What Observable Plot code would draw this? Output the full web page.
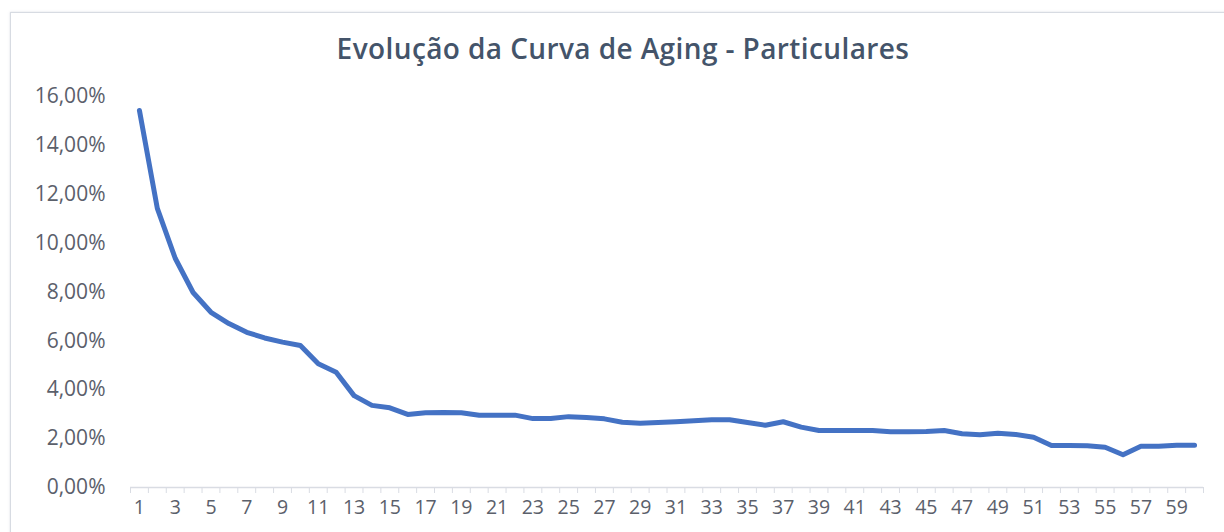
<!DOCTYPE html>
<html>
<head>
<meta charset="utf-8">
<script src="https://cdn.jsdelivr.net/npm/d3@7"></script>
<script src="https://cdn.jsdelivr.net/npm/@observablehq/plot@0.6"></script>
<style>
  html, body { margin: 0; padding: 0; background: #ffffff; width: 1224px; height: 532px; overflow: hidden; }
  #frame { position: absolute; left: 10px; top: 12px; width: 1400px; height: 700px; border: 1px solid #d7dbe2; box-shadow: 0 0 2px rgba(180,188,200,0.5); }
  #title { position: absolute; left: 0; top: 29px; width: 1246px; text-align: center; font-family: "Open Sans", sans-serif; font-weight: 600; font-size: 28px; letter-spacing: 0.4px; color: #44546a; line-height: 38px; }
  #chart { position: absolute; left: 0; top: 80px; }
</style>
</head>
<body>
<div id="frame"></div>
<div id="title">Evolução da Curva de Aging - Particulares</div>
<div id="chart"></div>
<script>
const months = [1,2,3,4,5,6,7,8,9,10,11,12,13,14,15,16,17,18,19,20,21,22,23,24,25,26,27,28,29,30,31,32,33,34,35,36,37,38,39,40,41,42,43,44,45,46,47,48,49,50,51,52,53,54,55,56,57,58,59,60];
const agingPct = [15.43,11.42,9.38,7.98,7.17,6.71,6.35,6.12,5.95,5.81,
                  5.06,4.72,3.76,3.36,3.26,2.99,3.06,3.07,3.06,2.96,
                  2.96,2.96,2.82,2.82,2.90,2.86,2.81,2.67,2.63,2.66,
                  2.69,2.73,2.77,2.77,2.66,2.55,2.69,2.47,2.33,2.33,
                  2.33,2.33,2.28,2.28,2.29,2.33,2.20,2.16,2.22,2.17,
                  2.06,1.72,1.72,1.71,1.65,1.34,1.69,1.69,1.73,1.73];
const xTickLabels = [1,3,5,7,9,11,13,15,17,19,21,23,25,27,29,31,33,35,37,39,41,43,45,47,49,51,53,55,57,59];
const yTickValues = [0,2,4,6,8,10,12,14,16];

const data = months.map((m, i) => ({month: m, value: agingPct[i]}));
const boundaries = months.map(m => m - 0.5).concat([months[months.length - 1] + 0.5]);
const fmt = v => v.toFixed(2).replace(".", ",") + "%";

const chart = Plot.plot({
  width: 1224,
  height: 452,
  marginLeft: 130,
  marginRight: 21,
  marginTop: 16,
  marginBottom: 45,
  style: {fontFamily: "Open Sans, sans-serif", fontSize: "19px", color: "#5b606b", background: "transparent"},
  x: {type: "linear", domain: [0.5, 60.5], label: null},
  y: {domain: [0, 16], label: null},
  marks: [
    Plot.axisX(boundaries, {tickSize: 6, stroke: "#d9dce3", tickFormat: () => "", label: null}),
    Plot.ruleY([0], {stroke: "#d9dce3", strokeWidth: 1.5}),
    Plot.axisX(xTickLabels, {tickSize: 0, tickPadding: 13, label: null, fill: "#5b606b", fontSize: 19.5}),
    Plot.axisY(yTickValues, {tickSize: 0, tickPadding: 25, tickFormat: fmt, label: null, fill: "#5b606b", fontSize: 21}),
    Plot.line(data, {x: "month", y: "value", stroke: "#4472c4", strokeWidth: 5, strokeLinejoin: "round", strokeLinecap: "round"})
  ]
});
document.getElementById("chart").appendChild(chart);
</script>
</body>
</html>
